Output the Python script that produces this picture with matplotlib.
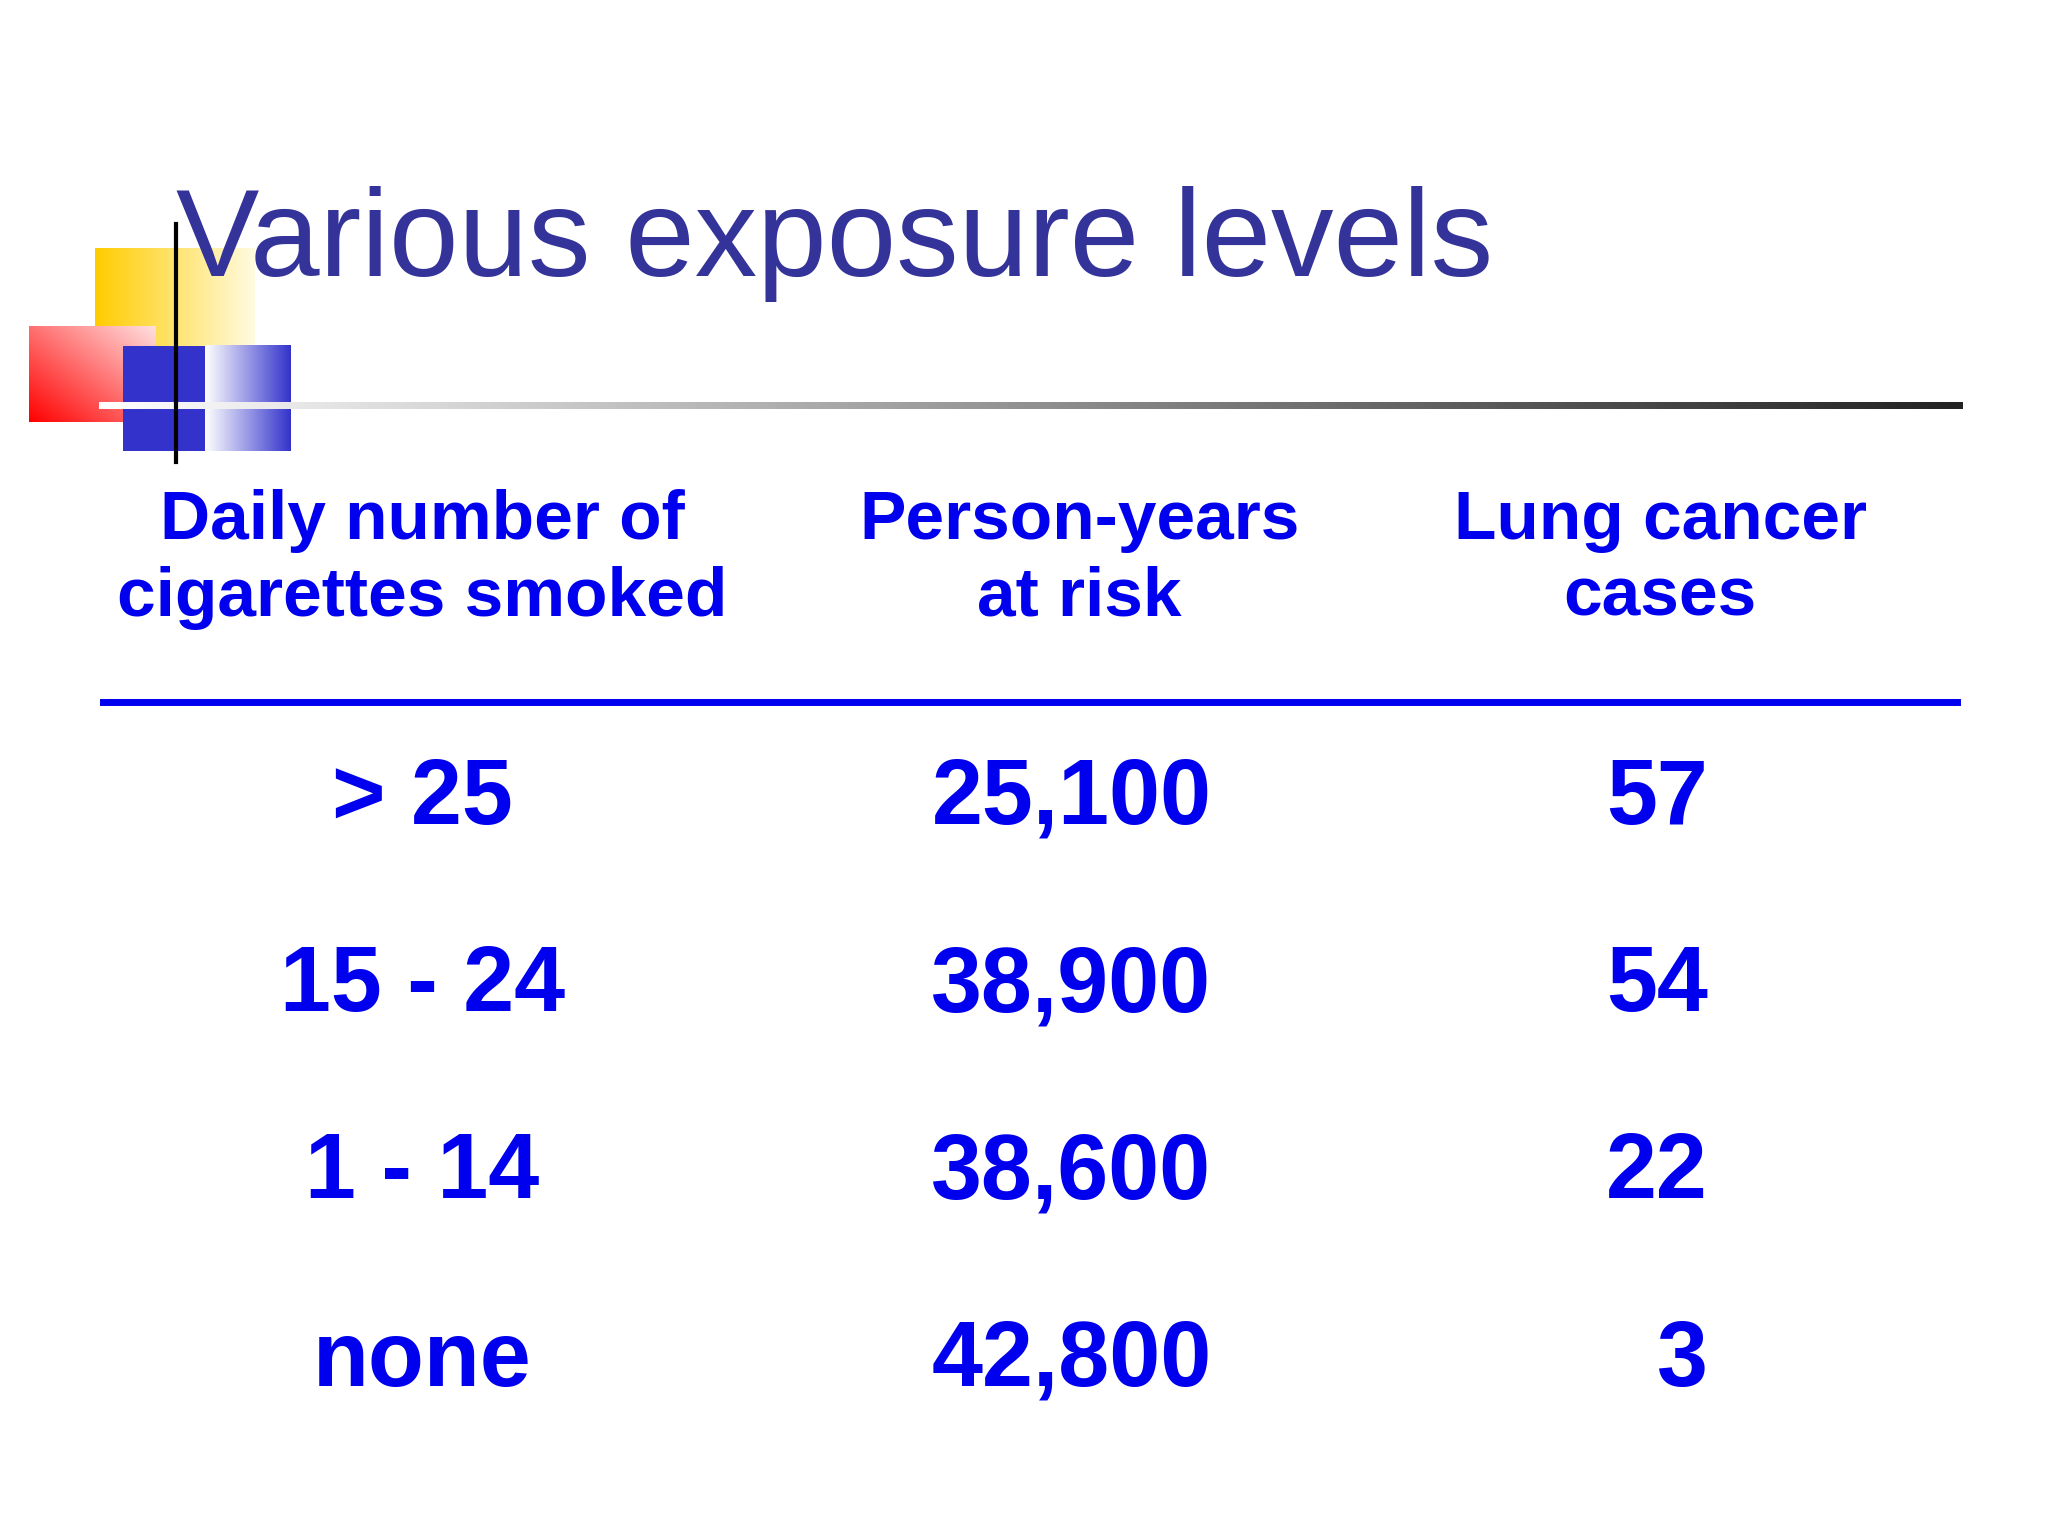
import numpy as np
import matplotlib.pyplot as plt
from matplotlib.colors import LinearSegmentedColormap

title = 'Various exposure levels'
headers = ['Daily number of\ncigarettes smoked', 'Person-years\nat risk', 'Lung cancer\ncases']
exposure = ['> 25', '15 - 24', '1 - 14', 'none']
person_years = [25100, 38900, 38600, 42800]
cases = [57, 54, 22, 3]

W, H = 1552, 1164
fig = plt.figure(figsize=(20.48, 15.36), dpi=100)
ax = fig.add_axes([0, 0, 1, 1])
ax.set_xlim(0, W)
ax.set_ylim(H, 0)
ax.axis('off')

def grad(x0, x1, y0, y1, c0, c1, diag=False, z=1):
    cm = LinearSegmentedColormap.from_list('g', [c0, c1])
    g = np.linspace(0, 1, 256)
    if diag:
        xx, yy = np.meshgrid(g, g)
        arr = (xx + (1 - yy)) / 2
    else:
        arr = np.tile(g, (2, 1))
    ax.imshow(arr, cmap=cm, extent=[x0, x1, y1, y0], aspect='auto', zorder=z)

# decoration
grad(72, 193, 188, 262, '#ffcc00', '#fffbe0', z=1)
grad(22, 118, 248, 320, '#ff0000', '#ffe0e0', diag=True, z=2)
ax.fill_between([93, 155], 262, 342, color='#3333cc', zorder=3, lw=0)
grad(155, 220, 262, 342, '#ffffff', '#3333cc', z=3)
grad(75, 1487, 305, 310, '#ffffff', '#222222', z=4)
ax.plot([133, 133], [170, 350], color='black', lw=3, zorder=5)

ax.text(133, 185, title, fontsize=90, color='#333399', va='center', ha='left',
        family=['Liberation Sans', 'DejaVu Sans'], zorder=6)

bold = dict(color='#0000ee', fontweight='bold',
            family=['Liberation Sans', 'DejaVu Sans'])
for x, h in zip([320, 818, 1258], headers):
    ax.text(x, 424, h, fontsize=50, ha='center', va='center', linespacing=1.25, **bold)

ax.plot([78, 1483], [532, 532], color='#0000ee', lw=5)

rows_y = [606, 748, 890, 1032]
for y, e, p, c in zip(rows_y, exposure, person_years, cases):
    ax.text(320, y, e, fontsize=66, ha='center', va='center', **bold)
    ax.text(918, y, f'{p:,}', fontsize=66, ha='right', va='center', **bold)
    ax.text(1294, y, str(c), fontsize=66, ha='right', va='center', **bold)

fig.savefig('out.png', dpi=100)
